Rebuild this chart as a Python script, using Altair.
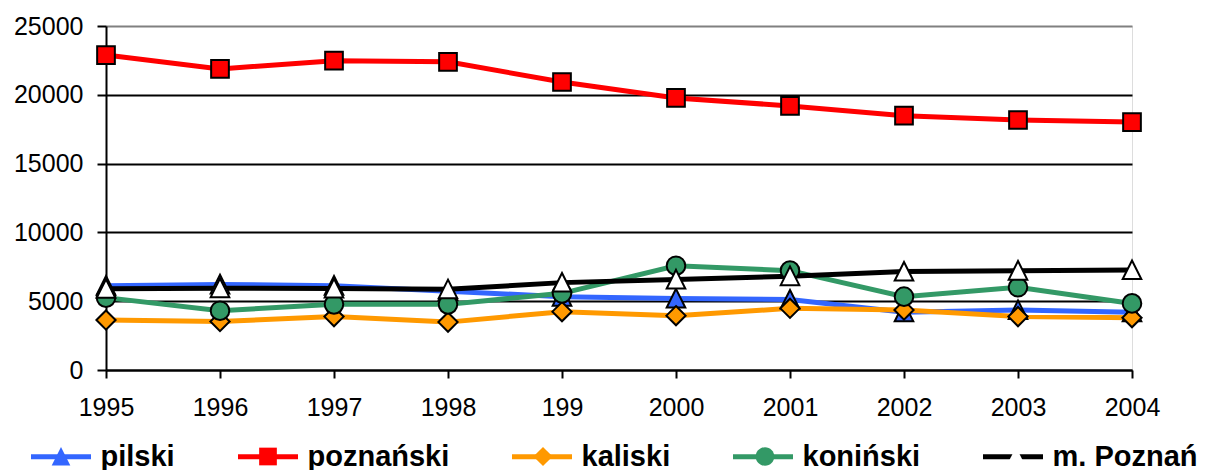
import altair as alt
import pandas as pd

years = ["1995", "1996", "1997", "1998", "199", "2000", "2001", "2002", "2003", "2004"]
series = ["pilski", "poznański", "kaliski", "koniński", "m. Poznań"]

pilski = [6130, 6220, 6130, 5720, 5330, 5200, 5120, 4200, 4360, 4190]
poznanski = [22890, 21880, 22480, 22400, 20930, 19770, 19190, 18480, 18170, 18020]
kaliski = [3630, 3520, 3880, 3480, 4240, 3950, 4480, 4360, 3880, 3800]
koninski = [5260, 4310, 4770, 4770, 5570, 7580, 7220, 5330, 6010, 4840]
m_poznan = [5900, 5950, 5930, 5870, 6350, 6580, 6820, 7150, 7220, 7260]

line_colors = ["#3366FF", "#FF0000", "#FF9900", "#339966", "#000000"]
marker_fills = ["#3366FF", "#FF0000", "#FF9900", "#339966", "#FFFFFF"]
# marker outlines (unit box); the leading moves only widen the symbol's layout box
ext = "M-1,0M1,0"
tri = ext + "M0,-0.32L0.31,0.3L-0.31,0.3Z"
sq = ext + "M-0.295,-0.295L0.295,-0.295L0.295,0.295L-0.295,0.295Z"
dia = ext + "M0,-0.32L0.32,0L0,0.32L-0.32,0Z"
r, k = 0.31, 0.1712
cir = ext + (f"M{r},0C{r},{k},{k},{r},0,{r}C{-k},{r},{-r},{k},{-r},0"
             f"C{-r},{-k},{-k},{-r},0,{-r}C{k},{-r},{r},{-k},{r},0Z")
marker_shapes = [tri, sq, dia, cir, tri]

values_by_series = [pilski, poznanski, kaliski, koninski, m_poznan]
rows = []
for i, (name, vals) in enumerate(zip(series, values_by_series)):
    for yr, v in zip(years, vals):
        rows.append({"year": yr, "series": name, "series_m": name, "order": i, "value": v})
df = pd.DataFrame(rows)

FONT = "Liberation Sans"
sort_order = alt.EncodingSortField(field="order", op="min")

x = alt.X(
    "year:O", sort=years, scale=alt.Scale(padding=0), title=None,
    axis=alt.Axis(labelAngle=0, labelFont=FONT, labelFontSize=25, labelColor="black",
                  labelPadding=17, tickSize=8, tickWidth=2, tickColor="black",
                  domainColor="black", domainWidth=2, grid=False),
)
y = alt.Y(
    "value:Q", scale=alt.Scale(domain=[0, 25000]), title=None,
    axis=alt.Axis(values=[0, 5000, 10000, 15000, 20000, 25000], format="d",
                  labelFont=FONT, labelFontSize=25, labelColor="black", labelPadding=14,
                  tickSize=9, tickWidth=2, tickColor="black",
                  domainColor="black", domainWidth=2,
                  grid=True, gridWidth=2,
                  gridColor={"condition": {"test": "datum.value === 25000", "value": "#808080"},
                             "value": "black"}),
)

legend_common = dict(orient="none", direction="horizontal", title=None, padding=0,
                     symbolSize=3600, labelFont=FONT, labelFontSize=29,
                     labelFontWeight="bold", labelLimit=400)

base = alt.Chart(df)

lines = base.mark_line(strokeWidth=5).encode(
    x=x, y=y,
    stroke=alt.Stroke(
        "series:N", sort=sort_order, scale=alt.Scale(range=line_colors),
        legend=alt.Legend(legendX=-77.5, legendY=398, symbolType="stroke",
                          symbolStrokeWidth=5, labelOffset=7, labelColor="black",
                          columnPadding=52, **legend_common),
    ),
)

points = base.mark_point(filled=True, opacity=1, size=3600, stroke="black", strokeWidth=2).encode(
    x=x, y=y,
    shape=alt.Shape(
        "series_m:N", sort=sort_order, scale=alt.Scale(range=marker_shapes),
        legend=alt.Legend(legendX=-76, legendY=399.5, symbolStrokeWidth=2,
                          symbolStrokeColor="black", symbolOpacity=1,
                          labelOffset=8.5, labelColor="transparent",
                          columnPadding=59, **legend_common),
    ),
    fill=alt.Fill("series_m:N", sort=sort_order, scale=alt.Scale(range=marker_fills)),
)

chart = (
    alt.layer(lines, points)
    .properties(width=1026, height=344, autosize="none",
                padding={"left": 98, "top": 18, "right": 67, "bottom": 100})
    .configure_view(stroke="#808080", strokeWidth=2)
    .configure(background="white")
)

chart.save("out.html", embed_options={"renderer": "svg", "actions": False})
